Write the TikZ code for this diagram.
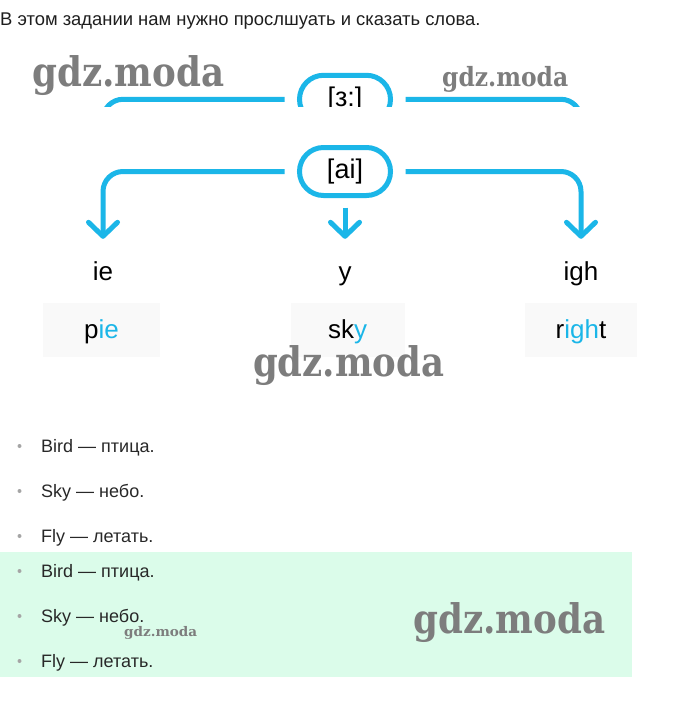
\documentclass[tikz,border=0pt]{standalone}
\usepackage{fontspec}
\setmainfont{Liberation Sans}
\newfontfamily\wmfont{DejaVu Serif}
\usetikzlibrary{arrows.meta,shapes.misc}
\definecolor{cy}{RGB}{27,182,232}
\definecolor{mint}{RGB}{219,252,234}
\definecolor{boxgray}{RGB}{249,249,249}
\definecolor{txt}{RGB}{40,40,40}
\definecolor{wm}{RGB}{125,125,125}
\definecolor{dotgray}{RGB}{165,165,165}
\tikzset{
  pill/.style={rounded rectangle, draw=cy, line width=5pt, minimum width=91pt,
    minimum height=48pt, inner sep=0pt, font=\fontsize{27}{27}\selectfont},
  conn/.style={draw=cy, line width=5pt, rounded corners=20pt,
    -{Straight Barb[length=14pt,width=29pt,round]}},
  lab/.style={font=\fontsize{26}{26}\selectfont, anchor=base, inner sep=0pt,
    text height=20pt, text depth=6pt},
  wordbox/.style={fill=boxgray, inner sep=0pt, minimum height=54pt,
    font=\fontsize{26}{26}\selectfont, text height=22pt, text depth=6pt},
  item/.style={anchor=base west, inner sep=0pt, text=txt,
    font=\fontsize{18}{18}\selectfont},
  bul/.style={circle, fill=dotgray, minimum size=4pt, inner sep=0pt},
  wmark/.style={text=wm, inner sep=0pt, anchor=north west, font=\wmfont\bfseries},
}
\begin{document}
\begin{tikzpicture}[x=1pt,y=-1pt]
\useasboundingbox (0,0) rectangle (680,712);
\fill[white] (0,0) rectangle (680,712);

% header
\node[anchor=base west, inner sep=0pt, text={rgb,255:red,30;green,30;blue,30},
  font=\fontsize{18.4}{18.4}\selectfont] (head) at (0,25)
  {В этом задании нам нужно прослшуать и сказать слова.};

% labels
\node[lab] (ie) at (103,280) {ie};
\node[lab] (yy) at (345,280) {y};
\node[lab] (igh) at (581,280) {igh};

% top (cut) structure
\begin{scope}
  \clip (0,0) rectangle (680,106.7);
  \node[pill] (sz) at (345,99.3) {[з:]};
  \draw[conn] ([xshift=-12.5pt]sz.west) -| (ie.north);
  \draw[conn] ([xshift=12.5pt]sz.east) -| (igh.north);
\end{scope}

% [ai] structure
\node[pill] (ai) at (345,171.5) {[ai]};
\draw[conn, shorten >=21pt] ([xshift=-12.5pt]ai.west) -| (ie.north);
\draw[conn, shorten >=21pt] ([yshift=-9.5pt]ai.south) -- (yy.north);
\draw[conn, shorten >=21pt] ([xshift=12.5pt]ai.east) -| (igh.north);

% word boxes
\node[wordbox, minimum width=117pt] (wpie) at (101.5,330) {p\textcolor{cy}{ie}};
\node[wordbox, minimum width=114pt] (wsky) at (347.5,330) {sk\textcolor{cy}{y}};
\node[wordbox, minimum width=112pt] (wright) at (581,330) {r\textcolor{cy}{igh}t};

% mint band
\fill[mint] (0,552) rectangle (632,677);

% list
\node[item] (t1) at (41,452) {Bird — птица.};
\node[item] (t2) at (41,497) {Sky — небо.};
\node[item] (t3) at (41,542) {Fly — летать.};
\node[item] (t4) at (41,577) {Bird — птица.};
\node[item] (t5) at (41,622) {Sky — небо.};
\node[item] (t6) at (41,667) {Fly — летать.};
\node[bul] (d1) at (19.5,446) {};
\node[bul] (d2) at (19.5,491) {};
\node[bul] (d3) at (19.5,536) {};
\node[bul] (d4) at (19.5,571) {};
\node[bul] (d5) at (19.5,616) {};
\node[bul] (d6) at (19.5,661) {};

% watermarks
\node[wmark] (wm1) at (32,55) {\resizebox*{192pt}{40pt}{gdz.moda}};
\node[wmark] (wm2) at (442,66) {\resizebox*{126pt}{26pt}{gdz.moda}};
\node[wmark] (wm3) at (253,345) {\resizebox*{191pt}{40pt}{gdz.moda}};
\node[wmark] (wm4) at (413,602) {\resizebox*{192pt}{40pt}{gdz.moda}};
\node[wmark] (wm5) at (124,626) {\resizebox*{73pt}{13pt}{gdz.moda}};
\end{tikzpicture}
\end{document}
